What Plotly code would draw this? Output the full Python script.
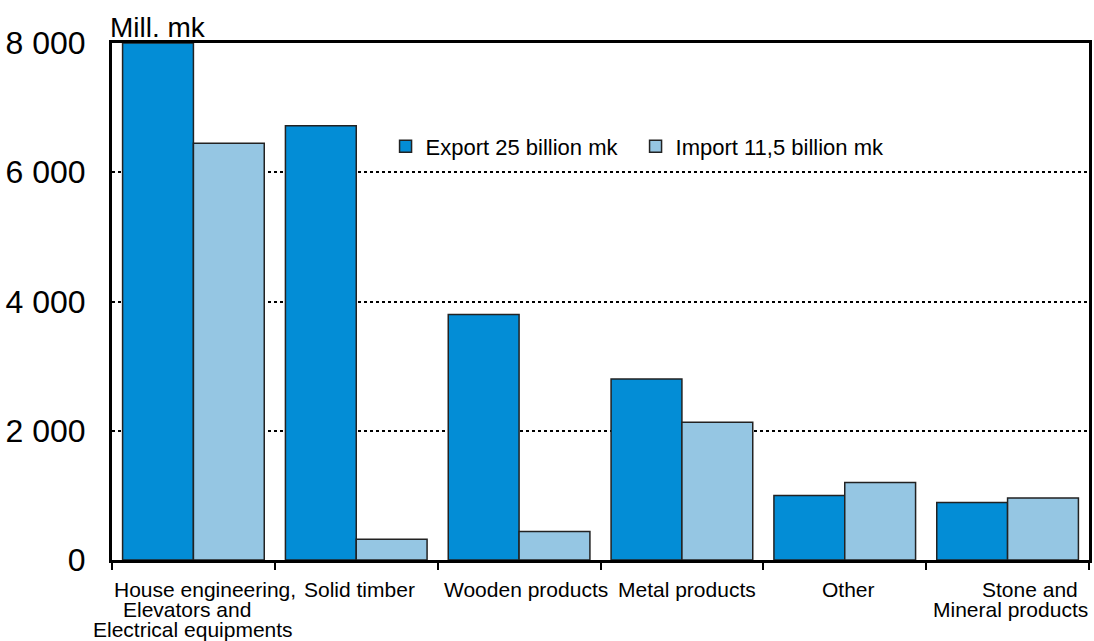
import plotly.graph_objects as go

# Category labels (line breaks as drawn under the axis)
categories = [
    "House engineering,\nElevators and\nElectrical equipments",
    "Solid timber",
    "Wooden products",
    "Metal products",
    "Other",
    "Stone and\nMineral products",
]
export_values = [8000, 6720, 3800, 2800, 1000, 890]   # Mill. mk
import_values = [6450, 320, 440, 2130, 1200, 960]     # Mill. mk

y_tickvals = [0, 2000, 4000, 6000, 8000]
y_ticktext = ["0", "2 000", "4 000", "6 000", "8 000"]

export_name = "Export 25 billion mk"
import_name = "Import 11,5 billion mk"

FONT = "Liberation Sans, Arial, sans-serif"
EXPORT_COLOR = "#038dd6"
IMPORT_COLOR = "#95c6e3"

# horizontal nudges (px) for each label line, per category
label_xshifts = [[12, -6, 0], [3], [7], [5], [4], [22, 3]]

fig = go.Figure()
fig.add_trace(go.Bar(
    x=categories, y=export_values, name=export_name,
    marker=dict(color=EXPORT_COLOR, line=dict(color="#222222", width=1.5)),
))
fig.add_trace(go.Bar(
    x=categories, y=import_values, name=import_name,
    marker=dict(color=IMPORT_COLOR, line=dict(color="#222222", width=1.5)),
))

annotations = []
for cat, shifts in zip(categories, label_xshifts):
    for j, line in enumerate(cat.split("\n")):
        annotations.append(dict(
            x=cat, y=0, xref="x", yref="y", text=line, showarrow=False,
            xanchor="center", yanchor="top", xshift=shifts[j],
            yshift=-17 - 20 * j, borderpad=0,
            font=dict(family=FONT, size=21, color="black"),
        ))
annotations.append(dict(
    x=0, y=1, xref="paper", yref="paper", text="Mill. mk", showarrow=False,
    xanchor="left", yanchor="bottom", xshift=-4, yshift=-2,
    font=dict(family=FONT, size=28, color="black"),
))

fig.update_layout(
    width=1094, height=641,
    margin=dict(l=112, r=2, t=43, b=81),
    paper_bgcolor="white", plot_bgcolor="white",
    barmode="group", bargap=0.13, bargroupgap=0,
    font=dict(family=FONT, color="black"),
    showlegend=True,
    legend=dict(
        orientation="h", x=0.28, y=0.80, xanchor="left", yanchor="middle",
        font=dict(family=FONT, size=22, color="black"),
        bgcolor="rgba(0,0,0,0)", entrywidth=205, itemwidth=30,
    ),
    annotations=annotations,
    xaxis=dict(
        type="category", range=[-0.5, len(categories) - 0.5],
        showticklabels=False,
        tickson="boundaries", ticks="outside", ticklen=7, tickwidth=1.5,
        tickcolor="black",
        showline=True, linecolor="black", linewidth=3, mirror=True,
        showgrid=False,
    ),
    yaxis=dict(
        range=[0, 8000], tickvals=y_tickvals, ticktext=y_ticktext,
        tickfont=dict(family=FONT, size=32, color="black"),
        ticks="", ticklabelstandoff=17,
        showline=True, linecolor="black", linewidth=3, mirror=True,
        showgrid=True, gridcolor="black", gridwidth=2, griddash="dot",
        zeroline=False,
    ),
)

fig.write_html("out.html")
